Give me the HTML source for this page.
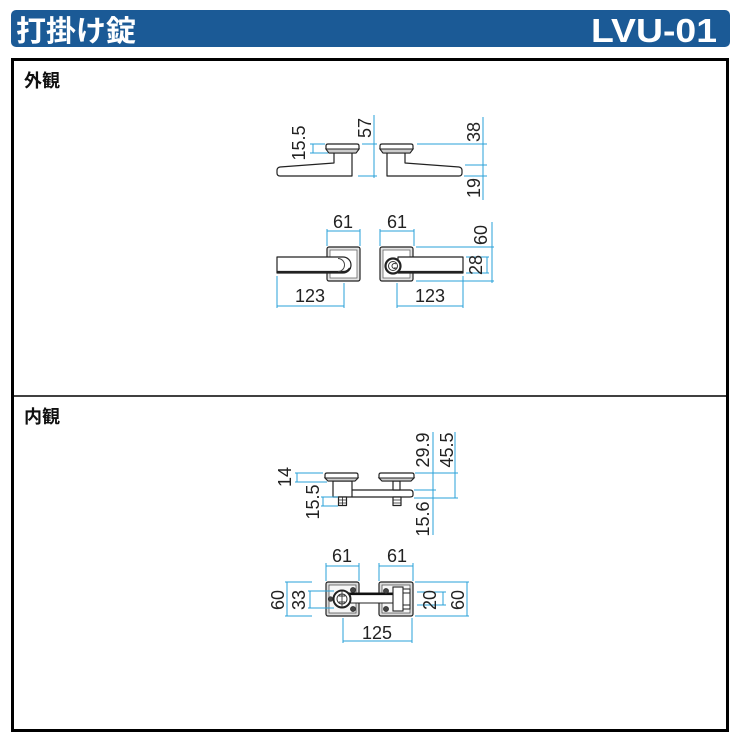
<!DOCTYPE html>
<html><head><meta charset="utf-8"><style>
html,body{margin:0;padding:0;background:#fff;}
svg{display:block;}
.d{stroke:#2aa2d8;stroke-width:1;fill:none;}
.o{stroke:#222;stroke-width:1.2;fill:#fff;stroke-linejoin:round;}
.t{font-family:"Liberation Sans",sans-serif;font-size:18px;fill:#222;text-anchor:middle;dominant-baseline:central;}
.h{font-family:"Liberation Sans","Noto Sans CJK JP",sans-serif;font-weight:bold;}
</style></head><body>
<svg width="740" height="740" viewBox="0 0 740 740" xmlns="http://www.w3.org/2000/svg">
<rect x="0" y="0" width="740" height="740" fill="#fff"/>
<!-- header -->
<rect x="11" y="10" width="719" height="37" rx="5" fill="#1b5a96"/>
<text x="16" y="41" class="h" font-size="29" fill="#fff" textLength="120" lengthAdjust="spacingAndGlyphs">打掛け錠</text>
<text x="591" y="42" class="h" font-size="33" fill="#fff" textLength="126" lengthAdjust="spacingAndGlyphs">LVU-01</text>
<!-- frame -->
<rect x="12.5" y="59.5" width="715" height="671" fill="none" stroke="#000" stroke-width="3"/>
<line x1="12" y1="396" x2="728" y2="396" stroke="#000" stroke-width="1.5"/>
<text x="24" y="81" class="h" font-size="18" fill="#111" dominant-baseline="central">外観</text>
<text x="24" y="417" class="h" font-size="18" fill="#111" dominant-baseline="central">内観</text>

<!-- ===== TOP SIDE VIEW ===== -->
<g id="sideL">
<path class="o" d="M334,153 L334,163 L280,167 Q277,167.5 277,170.5 L277,173 Q277,176 280,176 L352,176 L352,153"/>
<path class="o" d="M326,146 Q326,144 328,144 L357,144 Q359,144 359,146 L359,149 L356,153 L329,153 L326,149 Z"/>
<path d="M326,149 L359,149 L356,153 L329,153 Z" fill="#ccc" stroke="#222" stroke-width="1"/>
</g>
<g transform="translate(739,0) scale(-1,1)">
<path class="o" d="M334,153 L334,163 L280,167 Q277,167.5 277,170.5 L277,173 Q277,176 280,176 L352,176 L352,153"/>
<path class="o" d="M326,146 Q326,144 328,144 L357,144 Q359,144 359,146 L359,149 L356,153 L329,153 L326,149 Z"/>
<path d="M326,149 L359,149 L356,153 L329,153 Z" fill="#ccc" stroke="#222" stroke-width="1"/>
</g>
<!-- dims top side -->
<path class="d" d="M310,144 H325 M310,153 H328 M313,144 V153"/>
<text class="t" transform="rotate(-90 299 143)" x="299" y="143">15.5</text>
<path class="d" d="M362,144 H377 M358,176 H377 M374,115 V178"/>
<text class="t" transform="rotate(-90 365 128)" x="365" y="128">57</text>
<path class="d" d="M417,144 H487 M465,165 H487 M464,176 H487 M483,117 V200"/>
<text class="t" transform="rotate(-90 474 132)" x="474" y="132">38</text>
<text class="t" transform="rotate(-90 474 188)" x="474" y="188">19</text>

<!-- ===== TOP FRONT VIEW ===== -->
<rect x="327" y="247" width="33" height="34" rx="2" fill="#e4e4e4" stroke="#222" stroke-width="1.2"/>
<rect x="330" y="250" width="27" height="28" fill="#fff" stroke="#666" stroke-width="0.8"/>
<path class="o" d="M277,257 L343,257 A8,8 0 0 1 343,273 L277,273 Z" stroke-width="1.4"/>
<path d="M277,272 L343,272 A8,8 0 0 0 350,268" fill="none" stroke="#222" stroke-width="2.2"/>
<path d="M338,258.5 A6.5,6.5 0 0 1 338,271.5" fill="none" stroke="#444" stroke-width="1"/>

<rect x="380" y="247" width="33" height="34" rx="2" fill="#e4e4e4" stroke="#222" stroke-width="1.2"/>
<rect x="383" y="250" width="27" height="28" fill="#fff" stroke="#666" stroke-width="0.8"/>
<path class="o" d="M398,257 L463,257 L463,273 L398,273 Z" stroke-width="1.4"/>
<path d="M398,272 L463,272" stroke="#222" stroke-width="2.2"/>
<circle cx="393" cy="266" r="7.5" fill="#fff" stroke="#222" stroke-width="2.2"/>
<circle cx="393" cy="266" r="4.5" fill="#fff" stroke="#333" stroke-width="1"/>
<path d="M396,264 A2.5,2.5 0 1 0 396,268 L394,268" fill="none" stroke="#333" stroke-width="1"/>
<!-- dims top front -->
<path class="d" d="M327,229 V246 M360,229 V246 M327,231 H360"/>
<text class="t" x="343" y="222">61</text>
<path class="d" d="M380,229 V246 M414,229 V246 M380,231 H414"/>
<text class="t" x="397" y="222">61</text>
<path class="d" d="M277,276 V308 M344,283 V308 M277,306 H344"/>
<text class="t" x="310" y="296">123</text>
<path class="d" d="M397,283 V308 M463,276 V308 M397,306 H463"/>
<text class="t" x="430" y="296">123</text>
<path class="d" d="M416,247 H494 M416,281 H494 M466,257 H489 M466,273 H489 M492,222 V283 M487,257 V273"/>
<text class="t" transform="rotate(-90 481 235)" x="481" y="235">60</text>
<text class="t" transform="rotate(-90 476 265)" x="476" y="265">28</text>

<!-- ===== LOWER SIDE VIEW ===== -->
<path class="o" d="M352,490 L410,490 Q413,490 413,493 L413,495 Q413,497 410,497 L352,497"/>
<rect x="333" y="481" width="19" height="16" class="o"/>
<path class="o" d="M325,475 Q325,473 327,473 L356,473 Q358,473 358,475 L358,478 L355,481 L328,481 L325,478 Z"/>
<path d="M325,478 L358,478 L355,481 L328,481 Z" fill="#ccc" stroke="#222" stroke-width="1"/>
<rect x="338.5" y="497" width="8" height="8.5" class="o"/>
<path d="M338.5,500 H346.5 M338.5,503 H346.5 M342.5,497 V505.5" stroke="#222" stroke-width="0.8"/>
<rect x="393" y="481" width="7" height="9" class="o"/>
<path class="o" d="M379,475 Q379,473 381,473 L412,473 Q414,473 414,475 L414,478 L411,481 L382,481 L379,478 Z"/>
<path d="M379,478 L414,478 L411,481 L382,481 Z" fill="#ccc" stroke="#222" stroke-width="1"/>
<rect x="393" y="497" width="8" height="8.5" class="o"/>
<path d="M393,500 H401 M393,503 H401" stroke="#222" stroke-width="0.8"/>
<!-- dims lower side -->
<path class="d" d="M295,473 H323 M295,482 H327 M297,473 V482"/>
<text class="t" transform="rotate(-90 285 477)" x="285" y="477">14</text>
<path class="d" d="M321,497 H338 M321,506 H338 M323,497 V506"/>
<text class="t" transform="rotate(-90 313 502)" x="313" y="502">15.5</text>
<path class="d" d="M415,473 H458 M414,490 H436 M414,498 H458 M433,432 V535 M455,432 V498"/>
<text class="t" transform="rotate(-90 423 450)" x="423" y="450">29.9</text>
<text class="t" transform="rotate(-90 447 450)" x="447" y="450">45.5</text>
<text class="t" transform="rotate(-90 423 519)" x="423" y="519">15.6</text>

<!-- ===== LOWER FRONT VIEW ===== -->
<rect x="326" y="582" width="33" height="34" rx="2" fill="#dcdcdc" stroke="#222" stroke-width="1.2"/>
<rect x="329" y="585" width="27" height="28" fill="#f6f6f6" stroke="#555" stroke-width="0.8"/>
<rect x="379" y="582" width="34" height="34" rx="2" fill="#dcdcdc" stroke="#222" stroke-width="1.2"/>
<rect x="382" y="585" width="28" height="28" fill="#f6f6f6" stroke="#555" stroke-width="0.8"/>
<rect x="349" y="593" width="45" height="10" fill="#fff" stroke="#222" stroke-width="1"/>
<line x1="349" y1="594" x2="394" y2="594" stroke="#111" stroke-width="2.2"/>
<circle cx="342" cy="599" r="8.5" fill="#fff" stroke="#222" stroke-width="2"/>
<circle cx="342" cy="599" r="5" fill="#fff" stroke="#333" stroke-width="1"/>
<path d="M342,591 V607 M339,596 H345 M339,602 H345" stroke="#333" stroke-width="0.9"/>
<g fill="#444" stroke="#222" stroke-width="0.6">
<circle cx="353" cy="590" r="2.6"/><circle cx="353" cy="609" r="2.6"/><circle cx="330.5" cy="599" r="2.3"/>
<circle cx="386" cy="591" r="2.6"/><circle cx="386" cy="609" r="2.6"/>
</g>
<rect x="393" y="587" width="10" height="24" fill="#fff" stroke="#222" stroke-width="1.1"/>
<rect x="403" y="589" width="7" height="20" fill="#fff" stroke="#222" stroke-width="1"/>
<path d="M403,593 H410 M403,605 H410" stroke="#222" stroke-width="0.9"/>
<!-- dims lower front -->
<path class="d" d="M326,563 V581 M359,563 V581 M326,566 H359"/>
<text class="t" x="342" y="556">61</text>
<path class="d" d="M379,563 V581 M413,563 V581 M379,566 H413"/>
<text class="t" x="397" y="556">61</text>
<path class="d" d="M285,582 H312 M285,616 H312 M287,582 V616"/>
<text class="t" transform="rotate(-90 278 600)" x="278" y="600">60</text>
<path class="d" d="M308,591 H334 M308,608 H334 M310,591 V608"/>
<text class="t" transform="rotate(-90 299 600)" x="299" y="600">33</text>
<path class="d" d="M417,592 H446 M417,605 H446 M443,592 V605"/>
<text class="t" transform="rotate(-90 430 600)" x="430" y="600">20</text>
<path class="d" d="M415,582 H469 M415,616 H469 M467,582 V616"/>
<text class="t" transform="rotate(-90 458 600)" x="458" y="600">60</text>
<path class="d" d="M343,618 V643 M412,618 V643 M343,641 H412"/>
<text class="t" x="377" y="633">125</text>
</svg>
</body></html>
